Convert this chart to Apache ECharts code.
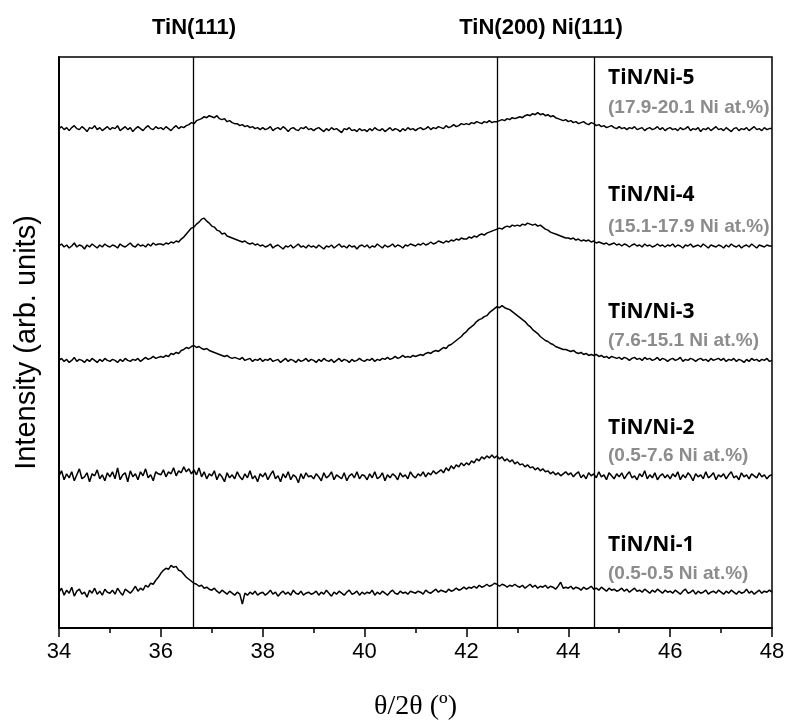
<!DOCTYPE html>
<html>
<head>
<meta charset="utf-8">
<script src="https://cdn.jsdelivr.net/npm/echarts@6/dist/echarts.min.js"></script>
<style>
    html, body {margin: 0; padding: 0; background: #fff;}
    #chart {width: 789px; height: 726px;}
</style>
</head>
<body>
<div id="chart"></div>
<script>
// 2θ scan range
const angleMin = 34;
const angleMax = 48;
const xTicks = [34, 36, 38, 40, 42, 44, 46, 48];

// reference peak positions (vertical lines)
const peakLines = [36.63, 42.6, 44.5];
const peakLabels = ['TiN(111)', 'TiN(200) Ni(111)'];

const sampleNames = ['TiN/Ni-1', 'TiN/Ni-2', 'TiN/Ni-3', 'TiN/Ni-4', 'TiN/Ni-5'];
const niRanges = ['(0.5-0.5 Ni at.%)', '(0.5-7.6 Ni at.%)', '(7.6-15.1 Ni at.%)', '(15.1-17.9 Ni at.%)', '(17.9-20.1 Ni at.%)'];

// intensities (arb. units, stacked), one value every 0.05° from 34 to 48
const ni1 = [
    36,40,33,38,35,41,32,37,39,34,36,31,38,35,40,34,37,33,39,36,
    35,38,34,40,36,33,39,37,35,38,42,37,40,38,43,41,45,44,48,51,
    55,58,60,59,63,61,62,58,57,54,51,49,47,45,44,42,43,40,41,39,
    38,40,37,35,38,36,34,37,35,33,36,34,24,35,33,36,34,37,33,35,
    36,33,35,38,34,36,32,35,37,34,36,33,38,35,34,37,33,35,36,34,
    35,37,33,36,34,38,35,32,36,34,37,35,33,36,38,34,35,37,33,36,
    34,36,35,38,33,36,34,37,35,33,36,38,35,34,37,35,36,34,37,36,
    35,37,36,34,38,36,35,37,39,36,38,37,36,39,37,38,40,38,39,41,
    39,41,40,42,40,43,41,42,44,42,43,45,44,42,44,43,41,43,42,44,
    42,41,43,40,42,44,41,43,40,42,41,43,40,42,41,39,42,46,40,41,
    40,42,39,41,40,38,41,39,40,42,39,40,38,41,39,37,40,38,39,37,
    38,40,37,39,36,38,40,37,38,36,39,37,35,38,36,39,37,35,38,36,
    37,35,38,36,34,37,39,35,36,38,34,37,35,36,38,34,36,37,35,38,
    36,34,37,35,38,36,34,37,35,36,39,35,37,34,36,38,35,37,36,38,
    36
];
const ni2 = [
    153,158,149,155,151,157,148,154,160,150,152,156,147,155,153,159,150,154,148,156,
    152,157,150,161,149,154,156,147,158,152,155,149,157,153,160,151,154,148,157,155,
    154,159,152,157,155,161,153,158,156,162,157,160,155,159,154,161,152,157,150,155,
    153,158,149,155,152,147,156,151,154,150,157,152,149,155,151,158,150,153,147,155,
    152,156,149,154,158,150,153,147,155,151,157,149,154,152,146,155,150,156,152,153,
    150,155,152,148,156,151,153,157,149,154,152,150,156,148,153,155,151,157,150,154,
    153,149,155,151,157,150,152,156,148,154,151,155,153,149,156,152,154,150,157,153,
    151,155,153,157,152,156,154,158,155,157,159,156,161,158,163,160,164,162,166,163,
    166,164,168,166,170,168,172,170,173,171,174,171,173,170,172,168,170,167,169,165,
    167,164,165,162,164,161,162,159,161,158,160,157,158,155,157,154,156,153,155,157,
    154,156,152,155,157,151,154,150,156,153,155,151,157,152,154,149,156,153,150,155,
    152,156,150,154,157,151,153,149,155,152,158,150,154,151,156,149,153,155,151,154,
    150,155,152,157,149,154,151,156,153,148,155,152,154,150,157,151,153,156,149,154,
    152,155,150,154,157,151,153,149,156,152,154,150,155,153,151,156,152,154,150,153,
    154
];
const ni3 = [
    269,271,268,270,267,269,272,268,270,269,267,270,268,271,269,267,270,268,271,269,
    268,270,269,267,270,268,271,269,268,270,269,271,268,270,272,270,271,273,271,272,
    273,272,274,273,276,275,277,276,279,280,282,281,283,284,282,283,281,280,281,279,
    278,277,276,275,274,273,274,272,271,272,271,270,272,269,270,271,268,270,269,271,
    268,270,269,271,268,269,270,267,269,271,268,270,269,267,270,268,269,271,268,270,
    269,267,270,268,271,269,268,270,267,269,271,268,270,269,267,270,268,269,271,269,
    268,270,269,271,268,270,269,271,270,272,270,271,273,271,272,274,272,273,272,274,
    273,274,275,274,276,277,276,278,279,278,280,282,281,284,285,287,289,291,293,296,
    298,301,303,305,308,310,311,313,314,317,319,321,323,322,324,322,321,320,318,316,
    314,312,310,308,305,303,300,298,296,293,291,289,288,286,285,283,282,281,280,280,
    279,278,279,277,276,277,275,276,274,275,274,275,273,274,272,273,271,273,272,271,
    272,270,272,271,269,271,272,270,271,269,272,270,271,269,270,272,269,271,270,268,
    270,271,269,270,272,268,270,269,271,270,268,270,271,269,270,268,271,269,270,271,
    269,271,268,270,269,271,268,270,269,267,270,268,271,269,270,268,270,269,271,268,
    269
];
const ni4 = [
    384,386,383,385,382,384,387,383,385,384,381,385,383,386,384,382,385,383,386,384,
    383,385,384,382,386,384,383,385,387,384,383,386,384,385,383,386,384,387,385,386,
    386,385,387,386,388,387,389,388,391,393,396,399,402,403,406,408,411,412,409,407,
    404,403,400,399,396,397,394,393,392,391,390,389,388,389,387,386,387,385,386,384,
    385,383,384,386,382,384,385,383,381,384,383,385,382,384,386,383,384,382,385,383,
    384,382,385,383,381,384,383,385,382,384,386,383,384,382,385,383,384,381,384,385,
    383,385,382,384,383,386,384,382,385,383,384,386,383,385,384,382,385,384,386,385,
    384,386,385,387,385,386,388,386,387,389,388,387,389,388,390,389,391,390,392,391,
    391,393,392,394,393,395,396,395,397,398,399,400,401,402,401,403,404,403,405,404,
    405,404,406,405,407,406,405,406,404,405,403,401,400,398,397,396,395,394,393,392,
    392,391,392,390,391,389,390,389,390,388,389,387,388,387,386,387,385,386,387,385,
    386,384,386,385,383,385,386,384,385,383,386,384,385,383,384,386,384,385,383,385,
    384,386,383,385,384,382,385,384,386,383,384,385,383,386,384,382,385,384,383,385,
    384,382,385,383,386,384,383,385,382,384,385,383,386,384,382,385,384,383,385,384,
    384
];
const ni5 = [
    502,504,501,503,500,503,505,502,501,504,502,499,503,502,505,501,503,500,502,504,
    501,503,502,505,500,502,504,501,503,499,502,504,502,500,503,505,502,501,504,502,
    503,501,504,502,500,503,505,502,504,503,505,506,508,507,510,511,512,514,513,515,
    514,513,515,512,511,512,509,510,508,507,507,505,506,504,505,503,504,502,503,501,
    503,501,502,504,500,502,503,501,504,502,499,502,503,501,500,503,502,504,501,502,
    500,502,503,501,499,502,500,503,501,502,500,498,502,501,503,500,501,499,502,500,
    501,499,502,500,503,501,500,502,499,501,503,500,502,501,499,502,500,503,501,502,
    500,502,503,501,502,504,501,503,502,504,503,502,505,503,504,506,504,505,507,506,
    507,506,508,507,509,508,507,509,508,510,508,509,509,510,511,510,512,511,513,512,
    513,514,513,515,516,515,517,516,518,516,517,515,516,514,515,513,512,511,510,511,
    509,510,508,509,507,508,509,507,506,508,507,505,506,504,505,503,504,505,503,502,
    504,502,503,501,503,502,504,501,502,503,500,502,503,501,502,504,501,503,500,502,
    503,501,502,500,503,501,502,504,500,502,501,503,499,502,501,503,500,502,504,501,
    502,500,503,501,499,502,503,500,502,501,503,500,502,504,501,502,500,503,501,502,
    502
];

const patterns = [ni1, ni2, ni3, ni4, ni5];

// text placement (px)
const labelX = 608;
const nameY = [545, 428, 312, 195, 78];
const rangeY = [574, 456, 341, 227, 108];
const peakLabelX = [194, 541];

const toPairs = arr => arr.map((v, i) => [angleMin + i * (angleMax - angleMin) / (arr.length - 1), v]);

const chart = echarts.init(document.getElementById('chart'));

const graphic = [];
peakLabels.forEach((t, i) => {
    graphic.push({
        type: 'text', x: peakLabelX[i], y: 28,
        style: {text: t, fill: '#000', font: 'bold 22px "Liberation Sans", Arial', textAlign: 'center', textVerticalAlign: 'middle'}
    });
});
sampleNames.forEach((t, i) => {
    graphic.push({
        type: 'text', x: labelX, y: nameY[i],
        style: {text: t, fill: '#000', font: 'bold 21px "Open Sans", sans-serif', textAlign: 'left', textVerticalAlign: 'middle'}
    });
    graphic.push({
        type: 'text', x: labelX, y: rangeY[i],
        style: {text: niRanges[i], fill: '#8c8c8c', font: 'bold 19px "Liberation Sans", Arial', textAlign: 'left', textVerticalAlign: 'middle'}
    });
});

const option = {
    animation: false,
    backgroundColor: '#fff',
    grid: {
        left: 59, right: 17, top: 57, bottom: 95,
        show: true, borderColor: '#000', borderWidth: 1.5, backgroundColor: 'transparent'
    },
    xAxis: {
        type: 'value',
        min: angleMin,
        max: angleMax,
        interval: 2,
        name: 'θ/2θ (º)',
        nameLocation: 'middle',
        nameGap: 65,
        nameTextStyle: {fontFamily: '"Liberation Serif", serif', fontSize: 28, color: '#000'},
        axisLine: {lineStyle: {color: '#000', width: 2}},
        axisTick: {show: true, inside: false, length: 9, lineStyle: {color: '#000', width: 1.5}},
        minorTick: {show: true, splitNumber: 2, length: 5, lineStyle: {color: '#000', width: 1.5}},
        axisLabel: {
            color: '#000', fontSize: 22, fontFamily: '"Liberation Sans", Arial', margin: 13,
            formatter: v => xTicks.includes(v) ? String(v) : ''
        },
        splitLine: {show: false}
    },
    yAxis: {
        type: 'value',
        min: 0,
        max: 574,
        name: 'Intensity (arb. units)',
        nameLocation: 'middle',
        nameGap: 18,
        nameTextStyle: {fontFamily: '"Liberation Sans", Arial', fontSize: 29, color: '#000'},
        axisLine: {show: true, lineStyle: {color: '#000', width: 2}},
        axisTick: {show: false},
        axisLabel: {show: false},
        splitLine: {show: false}
    },
    graphic: graphic,
    series: patterns.map((p, i) => ({
        type: 'line',
        name: sampleNames[i],
        data: toPairs(p),
        showSymbol: false,
        symbol: 'none',
        lineStyle: {color: '#000', width: 1.5},
        z: 3,
        markLine: i === 0 ? {
            silent: true,
            symbol: 'none',
            label: {show: false},
            lineStyle: {color: '#000', type: 'solid', width: 1.3},
            data: peakLines.map(v => ({xAxis: v}))
        } : undefined
    }))
};

chart.setOption(option);
</script>
</body>
</html>
